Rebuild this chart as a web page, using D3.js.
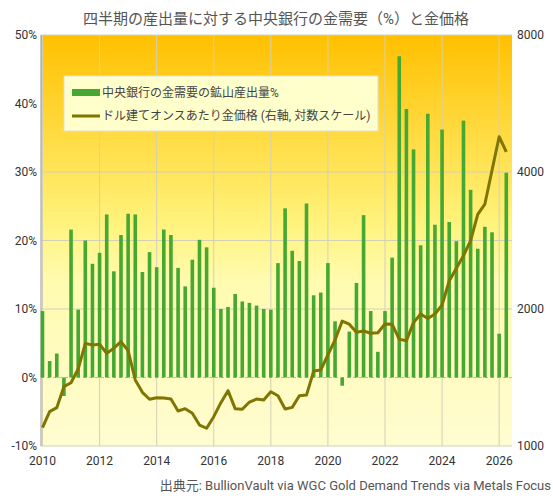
<!DOCTYPE html>
<html><head><meta charset="utf-8">
<script src="https://cdn.jsdelivr.net/npm/d3@7"></script>
<style>body{margin:0;background:#fff}text{font-family:Roboto,"Noto Sans CJK JP",sans-serif}</style>
</head><body><svg id="c" width="553" height="499"></svg>
<script>
const startYear = 2010;
const cbShare = [9.7,2.4,3.5,-2.7,21.6,9.9,20.0,16.6,18.2,23.8,15.5,20.8,23.9,23.8,15.4,18.3,16.1,21.6,20.8,16.0,13.3,17.2,20.1,19.0,13.1,10.0,10.3,12.2,11.1,10.9,10.5,10.0,9.9,16.7,24.7,18.5,17.0,25.4,12.0,12.4,16.7,8.2,-1.2,6.7,13.8,23.7,9.7,3.75,9.7,17.5,46.9,39.2,33.3,19.3,38.5,22.3,36.2,22.7,19.9,37.5,27.4,18.8,22.0,21.2,6.4,29.9];
const goldPrice = [1097,1190,1214,1350,1377,1476,1681,1667,1673,1598,1640,1695,1620,1397,1312,1267,1277,1275,1268,1194,1208,1180,1112,1094,1160,1245,1323,1208,1204,1249,1268,1262,1316,1289,1206,1216,1289,1294,1461,1469,1585,1710,1881,1852,1778,1789,1769,1774,1854,1852,1716,1704,1867,1950,1906,1950,2041,2304,2459,2620,2826,3227,3401,4036,4781,4430];
const yearTicks = [2010,2012,2014,2016,2018,2020,2022,2024,2026];
const leftTicks = [-10,0,10,20,30,40,50];
const rightTicks = [1000,2000,4000,8000];
const title = "四半期の産出量に対する中央銀行の金需要（%）と金価格";
const legendLabels = ["中央銀行の金需要の鉱山産出量%","ドル建てオンスあたり金価格 (右軸, 対数スケール)"];
const source = "出典元: BullionVault via WGC Gold Demand Trends via Metals Focus";

const svg = d3.select("#c");
const L=41,R=512,T=35,B=446;
const x = d3.scaleLinear().domain([2010,2026.45]).range([L+1.5,R]);
const y = d3.scaleLinear().domain([-10,50]).range([B,T]);
const y2 = d3.scaleLog().domain([1000,8000]).range([B,T]);
const tq = i => startYear + i/4;

const defs = svg.append("defs");
const g = defs.append("linearGradient").attr("id","bg").attr("x1",0).attr("y1",0).attr("x2",0).attr("y2",1);
g.append("stop").attr("offset","0%").attr("stop-color","#ffc000");
g.append("stop").attr("offset","45%").attr("stop-color","#fff27a");
g.append("stop").attr("offset","60%").attr("stop-color","#fffbb0");
g.append("stop").attr("offset","100%").attr("stop-color","#fffcd0");
svg.append("rect").attr("x",L).attr("y",T).attr("width",R-L).attr("height",B-T).attr("fill","url(#bg)");

// grid
svg.append("g").selectAll("line").data(yearTicks).join("line")
 .attr("x1",d=>x(d)).attr("x2",d=>x(d)).attr("y1",T).attr("y2",B).attr("stroke","#d4d0b8").attr("stroke-width",1);
svg.append("g").selectAll("line").data(leftTicks.filter(d=>d!==0)).join("line")
 .attr("x1",L).attr("x2",R).attr("y1",d=>y(d)).attr("y2",d=>y(d)).attr("stroke","#d4d0b8");
svg.append("line").attr("x1",L).attr("x2",R).attr("y1",y(0)).attr("y2",y(0)).attr("stroke","#bbb").attr("stroke-dasharray","3,3");
svg.append("line").attr("x1",L).attr("x2",L).attr("y1",T).attr("y2",B).attr("stroke","#999");

// bars
const bw=3.6;
svg.append("g").selectAll("rect").data(cbShare).join("rect")
 .attr("x",(d,i)=>x(tq(i))-bw/2).attr("width",bw)
 .attr("y",d=>y(Math.max(0,d))).attr("height",d=>Math.abs(y(d)-y(0)))
 .attr("fill","#44a832");

// line
svg.append("path").datum(goldPrice)
 .attr("d",d3.line().x((d,i)=>x(tq(i))).y(d=>y2(d)))
 .attr("fill","none").attr("stroke","#7f7500").attr("stroke-width",3).attr("stroke-linejoin","round");

// axes labels
const tc="#333";
svg.append("g").selectAll("text").data(leftTicks).join("text")
 .attr("x",L-4).attr("y",d=>y(d)+4).attr("text-anchor","end").attr("font-size",12).attr("fill",tc).text(d=>d+"%");
svg.append("g").selectAll("text").data(rightTicks).join("text")
 .attr("x",R+5).attr("y",d=>y2(d)+4).attr("font-size",12).attr("fill",tc).text(d=>d);
svg.append("g").selectAll("text").data(yearTicks).join("text")
 .attr("x",d=>x(d)).attr("y",B+19).attr("text-anchor","middle").attr("font-size",12).attr("fill",tc).text(d=>d);

svg.append("text").attr("x",276).attr("y",24).attr("text-anchor","middle").attr("font-size",15).attr("fill","#555").text(title);
svg.append("text").attr("x",551).attr("y",490).attr("text-anchor","end").attr("font-size",13).attr("fill","#555").text(source);

// legend
const lg = svg.append("g");
lg.append("rect").attr("x",64).attr("y",76).attr("width",314).attr("height",55).attr("fill","#ffffcc").attr("stroke","#ddd");
lg.append("rect").attr("x",72).attr("y",89).attr("width",28).attr("height",7).attr("fill","#44a832");
lg.append("line").attr("x1",72).attr("x2",100).attr("y1",116).attr("y2",116).attr("stroke","#7f7500").attr("stroke-width",3);
lg.selectAll("text.l").data(legendLabels).join("text").attr("class","l")
 .attr("x",102).attr("y",(d,i)=>97+i*23).attr("font-size",12).attr("fill","#444").text(d=>d);
</script></body></html>
